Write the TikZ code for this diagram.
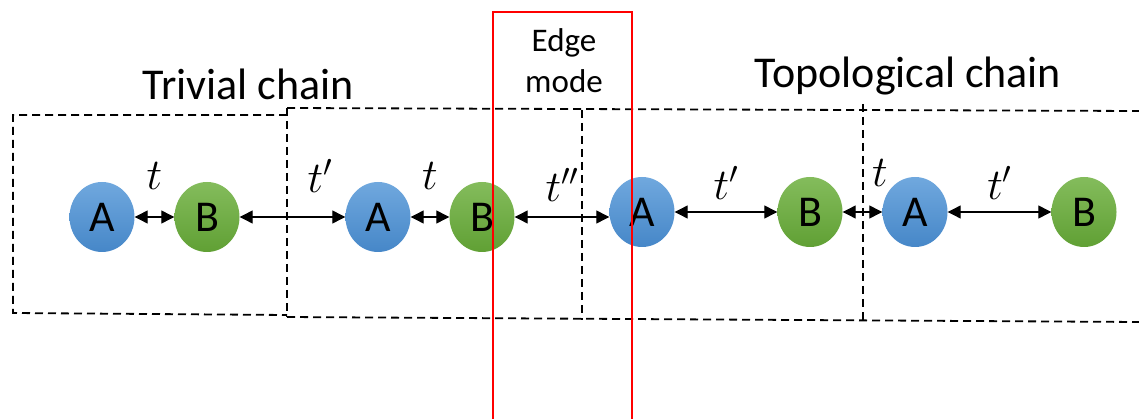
\documentclass[tikz,border=0pt]{standalone}
\usepackage{fix-cm}
\usepackage{fontspec}
\setmainfont{Carlito}
\usetikzlibrary{shapes.geometric,arrows.meta}
\definecolor{blueT}{RGB}{112,168,222}
\definecolor{blueB}{RGB}{70,135,200}
\definecolor{greenT}{RGB}{132,188,92}
\definecolor{greenB}{RGB}{96,160,52}

\begin{document}
\begin{tikzpicture}[x=1pt,y=-1pt,
    site/.style={ellipse,minimum width=65pt,minimum height=70pt,inner sep=0pt,font=\fontsize{44}{46}\selectfont},
    siteA/.style={site,top color=blueT,bottom color=blueB},
    siteB/.style={site,top color=greenT,bottom color=greenB},
    hop/.style={{Triangle[length=13pt,width=13pt]}-{Triangle[length=13pt,width=13pt]},line width=1.2pt},
    lbl/.style={inner sep=0pt,font=\fontsize{44}{44}\selectfont},
    cell/.style={dash pattern=on 8pt off 5pt,line width=1.8pt},
    title/.style={anchor=base,inner sep=0pt,font=\fontsize{44}{48}\selectfont}]
    \useasboundingbox (0,0) rectangle (1139,419);
    % unit cells
    \draw[cell] (287,115) -- (13,115) -- (13,313) -- (287,315);
    \draw[cell] (287,108) -- (1139,111);
    \draw[cell] (287,317) -- (1139,322);
    \draw[cell] (287,108) -- (287,317);
    \draw[cell] (582,110) -- (582,320);
    \draw[cell] (863,104) -- (863,321);
    % titles
    \node[title] (trivial) at (248,100) {Trivial chain};
    \node[title] (topo) at (908,88) {Topological chain};
    \node[title,font=\fontsize{33}{36}\selectfont] (edge) at (564,52) {Edge};
    \node[title,font=\fontsize{33}{36}\selectfont] (mode) at (564,93) {mode};
    % sites
    \node[siteA] (a1) at (102,217) {A};
    \node[siteB] (b1) at (207,217) {B};
    \node[siteA] (a2) at (378,217) {A};
    \node[siteB] (b2) at (482,217) {B};
    \node[siteA] (a3) at (642,212) {A};
    \node[siteB] (b3) at (810,212) {B};
    \node[siteA] (a4) at (915,212) {A};
    \node[siteB] (b4) at (1084,212) {B};
    % hoppings
    \draw[hop] (a1) -- (b1) node[lbl,midway,above=27pt] {$t$};
    \draw[hop] (b1) -- (a2) node[lbl,pos=.76,above=24pt] {$t'$};
    \draw[hop] (a2) -- (b2) node[lbl,midway,above=27pt] {$t$};
    \draw[hop] (b2.east) -- (b2.east -| a3.west) node[lbl,midway,above=15pt] {$t''$};
    \draw[hop] (a3) -- (b3) node[lbl,midway,above=12pt] {$t'$};
    \draw[hop] (b3) -- (a4) node[lbl,pos=.94,above=25pt] {$t$};
    \draw[hop] (a4) -- (b4) node[lbl,midway,above=12pt] {$t'$};
    % edge mode window
    \draw[red,line width=2pt] (493,425) |- (632,12) -- (632,425);
\end{tikzpicture}
\end{document}
